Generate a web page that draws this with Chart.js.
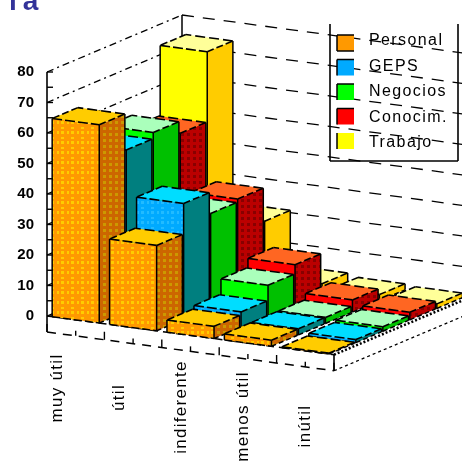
<!DOCTYPE html>
<html>
<head>
<meta charset="utf-8">
<script src="https://cdn.jsdelivr.net/npm/chart.js@4"></script>
<style>
  html, body { margin: 0; padding: 0; background: #fff; overflow: hidden; }
  canvas { display: block; }
</style>
</head>
<body>
<canvas id="grafico" width="462" height="461"></canvas>
<script>
var categorias = ['muy útil', 'útil', 'indiferente', 'menos útil', 'inútil'];
var series = ['Personal', 'GEPS', 'Negocios', 'Conocim.', 'Trabajo'];
var personal = [65, 28, 4, 2, 0.3];
var geps = [53, 38, 5, 2, 1];
var negocios = [55, 31, 10, 2, 1.5];
var conocim = [51, 32, 13, 4, 2.5];
var trabajo = [74, 21, 3, 2, 1.5];
var ticksY = [0, 10, 20, 30, 40, 50, 60, 70, 80];

// colores de cada serie: frente, lado, tapa, trama
var frentes = ['#ff9900', '#00aaff', '#00ff00', '#ff0000', '#ffff00'];
var lados = ['#cc6600', '#007f7f', '#00c000', '#bb0000', '#ffcc00'];
var tapas = ['#ffcc00', '#00ddff', '#aaffbb', '#ff6622', '#ffff99'];
var tramas = ['#ffcc00', '#22bbff', '#00ff00', '#880000', '#ffff00'];

var FONDO_X = 135, FONDO_Y = -57;  // vector de profundidad total
var PENDIENTE = 0.135;             // caida del eje de categorias
var ANCHO_BARRA = 0.82, FONDO_BARRA = 0.95;

function trama(ctx, base, punto, paso) {
    var c = document.createElement('canvas');
    c.width = paso; c.height = paso;
    var g = c.getContext('2d');
    g.fillStyle = base;
    g.fillRect(0, 0, paso, paso);
    g.fillStyle = punto;
    g.fillRect(1, 1, 3, 3);
    g.fillRect(1, 7, 3, 2);
    g.fillRect(7, 1, 2, 3);
    return ctx.createPattern(c, 'repeat');
}

function cara(ctx, pts, relleno) {
    ctx.beginPath();
    pts.forEach(function (p, i) { if (i) ctx.lineTo(p[0], p[1]); else ctx.moveTo(p[0], p[1]); });
    ctx.closePath();
    ctx.fillStyle = relleno;
    ctx.fill();
}

function linea(ctx, a, b, dash, ancho) {
    ctx.setLineDash(dash || []);
    ctx.lineWidth = ancho || 1.5;
    ctx.beginPath();
    ctx.moveTo(a[0], a[1]);
    ctx.lineTo(b[0], b[1]);
    ctx.stroke();
}

var barras3d = {
    id: 'barras3d',
    beforeDatasetsDraw: function (chart) {
        var ctx = chart.ctx, sx = chart.scales.x, sy = chart.scales.y, sz = chart.scales.z;
        var izq = chart.chartArea.left, der = chart.chartArea.right;
        var slot = (der - izq) / categorias.length;

        // proyecta (pixel x, valor, profundidad 0..5) a la pantalla
        function p(px, valor, z) {
            var f = sz.getDecimalForPixel(sz.getPixelForValue(z));
            return [px + f * FONDO_X, sy.getPixelForValue(valor) + (px - izq) * PENDIENTE + f * FONDO_Y];
        }

        ctx.save();
        ctx.strokeStyle = '#000';

        // paredes
        ticksY.forEach(function (v) {
            linea(ctx, p(izq, v, 0), p(izq, v, 5), [7, 4, 2, 4], 1.3);
            linea(ctx, p(izq, v, 5), p(izq + 300, v, 5), [12, 9], 1.3);
        });
        linea(ctx, p(izq, 0, 5), p(izq, 80, 5), [], 1.5);
        linea(ctx, p(izq, 0, 0), p(der, 0, 0), [8, 5], 1.5);

        // barras de atras hacia adelante
        for (var s = series.length - 1; s >= 0; s--) {
            var datos = chart.data.datasets[s].data;
            var pFrente = trama(ctx, frentes[s], tramas[s], 10);
            var pLado = trama(ctx, lados[s], s === 0 ? '#cc9900' : tramas[s], 6);
            for (var c = 0; c < categorias.length; c++) {
                var cx = sx.getPixelForValue(c), v = datos[c];
                var x0 = cx - slot * ANCHO_BARRA / 2, x1 = cx + slot * ANCHO_BARRA / 2;
                var z0 = s, z1 = s + FONDO_BARRA;
                var a = p(x0, 0, z0), b = p(x1, 0, z0), e = p(x1, 0, z1);
                var at = p(x0, v, z0), bt = p(x1, v, z0), et = p(x1, v, z1), dt = p(x0, v, z1);

                cara(ctx, [a, b, bt, at], s === 0 || s === 1 ? pFrente : frentes[s]);
                cara(ctx, [b, e, et, bt], s === 0 || s === 3 ? pLado : lados[s]);
                cara(ctx, [at, bt, et, dt], tapas[s]);

                linea(ctx, a, at, [], 1.5);
                linea(ctx, b, bt, [], 1.5);
                linea(ctx, e, et, [], 1.5);
                linea(ctx, a, b, [8, 3], 1.5);
                linea(ctx, b, e, [5, 3], 1.5);
                linea(ctx, at, bt, [10, 3], 1.6);
                linea(ctx, bt, et, [7, 3], 1.6);
                linea(ctx, et, dt, [10, 4], 1.6);
                linea(ctx, dt, at, [7, 3], 1.6);
            }
        }

        // borde derecho del piso
        linea(ctx, p(der, 0, 0), p(der, 0, 5), [2, 2], 2.5);

        // eje Y con marcas cada 5
        var baja = 16;
        var y0 = sy.getPixelForValue(0);
        linea(ctx, [izq, sy.getPixelForValue(80)], [izq, y0 + baja], [], 1.6);
        for (var t = 0; t <= 80; t += 5) {
            var ty = sy.getPixelForValue(t);
            linea(ctx, [izq, ty], [izq + 6, ty], [], 1.4);
        }

        // eje de categorias desplazado bajo el piso
        function bajo(q, dy) { return [q[0], q[1] + dy]; }
        linea(ctx, bajo(p(izq, 0, 0), baja), bajo(p(der, 0, 0), baja), [9, 7], 1.5);
        linea(ctx, p(der, 0, 0), bajo(p(der, 0, 0), baja), [], 1.6);
        linea(ctx, bajo(p(der, 0, 0), baja), bajo(p(der, 0, 5), baja), [3, 3], 1.3);
        for (var k = 0; k <= categorias.length * 2; k++) {
            var mx = izq + k * slot / 2;
            linea(ctx, bajo(p(mx, 0, 0), baja - (k % 2 ? 5 : 8)), bajo(p(mx, 0, 0), baja), [], 1.4);
        }

        // etiquetas de categorias, giradas
        ctx.fillStyle = '#000';
        ctx.font = '17px "Liberation Sans"';
        ctx.letterSpacing = '1.3px';
        ctx.textAlign = 'center';
        ctx.textBaseline = 'middle';
        categorias.forEach(function (nombre, i) {
            ctx.save();
            ctx.translate(sx.getPixelForValue(i) - 18 + i * 4.5, 388 + i * 9.5);
            ctx.rotate(-Math.PI / 2);
            ctx.fillText(nombre, 0, 0);
            ctx.restore();
        });
        ctx.letterSpacing = '0px';

        // leyenda
        ctx.setLineDash([]);
        linea(ctx, [330, 24], [330, 161], [], 1.6);
        linea(ctx, [330, 161], [458, 161], [], 1.6);
        linea(ctx, [458, 24], [458, 161], [], 1.6);
        ctx.font = '16px "Liberation Sans"';
        ctx.letterSpacing = '1.4px';
        ctx.textAlign = 'left';
        ctx.textBaseline = 'alphabetic';
        series.forEach(function (nombre, i) {
            var ly = 35 + i * 24.5;
            ctx.fillStyle = frentes[i];
            ctx.fillRect(337, ly, 17, 16);
            ctx.strokeStyle = '#000';
            linea(ctx, [337, ly], [337, ly + 16], [], 1.5);
            if (i < 4) linea(ctx, [337, ly], [354, ly], [], 1.5);
            if (i < 1) linea(ctx, [337, ly + 16], [354, ly + 16], [], 1.5);
            ctx.fillStyle = '#000';
            ctx.fillText(nombre, 369, 45 + i * 25.5);
        });

        // resto del encabezado de la pagina
        ctx.fillStyle = '#333399';
        ctx.font = 'bold 28px "Liberation Sans"';
        ctx.letterSpacing = '6px';
        ctx.fillText('ría', -8, 10);
        ctx.letterSpacing = '0px';

        ctx.restore();
        return false;
    }
};

new Chart(document.getElementById('grafico').getContext('2d'), {
    type: 'bar',
    data: {
        labels: categorias,
        datasets: [
            { label: series[0], data: personal, backgroundColor: frentes[0] },
            { label: series[1], data: geps, backgroundColor: frentes[1] },
            { label: series[2], data: negocios, backgroundColor: frentes[2] },
            { label: series[3], data: conocim, backgroundColor: frentes[3] },
            { label: series[4], data: trabajo, backgroundColor: frentes[4] }
        ]
    },
    options: {
        responsive: false,
        animation: false,
        layout: { padding: { left: 0, right: 128, top: 72, bottom: 145 } },
        plugins: { legend: { display: false }, title: { display: false }, tooltip: { enabled: false } },
        scales: {
            x: { display: false },
            z: { type: 'linear', axis: 'x', display: false, offset: false, min: 0, max: series.length },
            y: {
                min: 0,
                max: 80,
                afterFit: function (escala) { escala.width = 47; },
                afterBuildTicks: function (escala) {
                    escala.ticks = ticksY.map(function (v) { return { value: v }; });
                },
                grid: { display: false, drawTicks: false },
                border: { display: false },
                ticks: {
                    padding: 13,
                    color: '#000',
                    font: { family: '"Liberation Sans"', size: 15, weight: 'bold' }
                }
            }
        }
    },
    plugins: [barras3d]
});
</script>
</body>
</html>
